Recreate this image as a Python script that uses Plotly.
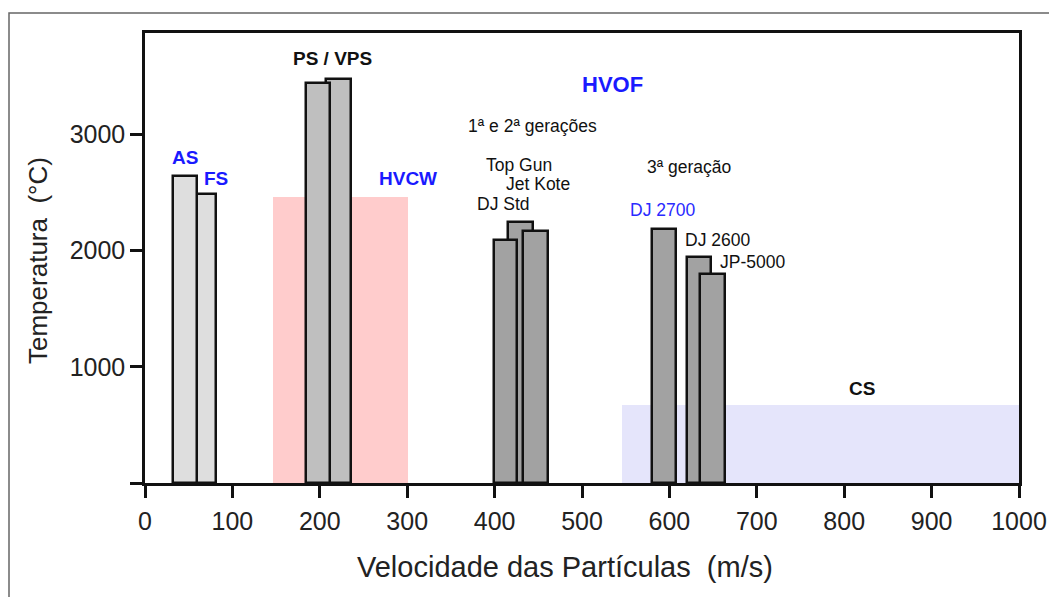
import plotly.graph_objects as go

# ---------------- data ----------------
# Processes drawn as bars (velocity range in m/s, particle temperature in °C)
bar_names = ["FS", "AS", "VPS", "PS", "Top Gun", "DJ Std", "Jet Kote", "DJ 2700", "DJ 2600", "JP-5000"]
bar_vmin = [60, 32, 207, 184, 415, 399, 432, 580, 620, 635]
bar_vmax = [81, 60, 236, 212, 444, 426, 461, 608, 648, 664]
bar_temp = [2490, 2645, 3475, 3440, 2250, 2095, 2165, 2185, 1945, 1800]
bar_group = ["chama", "chama", "plasma", "plasma", "hvof", "hvof", "hvof", "hvof", "hvof", "hvof"]

# Process regions drawn as shaded areas
region_names = ["HVCW", "CS"]
region_vmin = [146, 546]
region_vmax = [301, 1000]
region_temp = [2465, 675]

# Text labels (name, velocity, temperature)
label_text = ["AS", "FS", "PS / VPS", "HVCW", "HVOF", "1ª e 2ª gerações", "Top Gun", "Jet Kote",
              "DJ Std", "3ª geração", "DJ 2700", "DJ 2600", "JP-5000", "CS"]
label_v = [46, 81, 214, 301, 535, 443, 428, 450, 410, 622, 592, 655, 695, 820]
label_t = [2800, 2620, 3650, 2620, 3425, 3070, 2740, 2575, 2400, 2715, 2345, 2095, 1905, 810]

x_ticks = [0, 100, 200, 300, 400, 500, 600, 700, 800, 900, 1000]
y_ticks = [0, 1000, 2000, 3000]
y_ticktext = ["", "1000", "2000", "3000"]

# ---------------- styles ----------------
FONT = "Liberation Sans, Arial, sans-serif"
group_color = {"chama": "#dedede", "plasma": "#bfbfbf", "hvof": "#a2a2a2"}
region_color = {"HVCW": "#ffcccc", "CS": "#e5e5fb"}
label_style = {
    "AS": ("#1a1aff", 19, True), "FS": ("#1a1aff", 19, True), "PS / VPS": ("#111111", 19, True),
    "HVCW": ("#1a1aff", 19, True), "HVOF": ("#1a1aff", 22, True), "CS": ("#111111", 19, True),
    "DJ 2700": ("#2a2aff", 17.5, False),
}

fig = go.Figure()

for n, a, b, t in zip(region_names, region_vmin, region_vmax, region_temp):
    fig.add_trace(go.Bar(x=[(a + b) / 2], y=[t], width=[b - a], base=0,
                         marker=dict(color=region_color[n], line=dict(width=0)),
                         name=n, hoverinfo="name"))

for n, a, b, t, g in zip(bar_names, bar_vmin, bar_vmax, bar_temp, bar_group):
    fig.add_trace(go.Bar(x=[(a + b) / 2], y=[t], width=[b - a], base=0,
                         marker=dict(color=group_color[g], line=dict(width=2.5, color="#111111")),
                         name=n, hoverinfo="name"))

annotations = []
for txt, v, t in zip(label_text, label_v, label_t):
    col, size, bold = label_style.get(txt, ("#111111", 17.5, False))
    annotations.append(dict(x=v, y=t, xref="x", yref="y", text=f"<b>{txt}</b>" if bold else txt,
                            showarrow=False, xanchor="center", yanchor="middle",
                            font=dict(family=FONT, size=size, color=col)))

L, R, T, B = 145, 30, 33, 114
W, H = 1049, 597
pw, ph = W - L - R, H - T - B

# axis titles
annotations.append(dict(text="Velocidade das Partículas  (m/s)", xref="paper", yref="paper",
                        x=(565 - L) / pw, y=(H - B - 567) / ph, showarrow=False,
                        xanchor="center", yanchor="middle",
                        font=dict(family=FONT, size=29, color="#222222")))
annotations.append(dict(text="Temperatura  (°C)", xref="paper", yref="paper", textangle=-90,
                        x=(38 - L) / pw, y=(H - B - 261) / ph, showarrow=False,
                        xanchor="center", yanchor="middle",
                        font=dict(family=FONT, size=26, color="#222222")))

fig.update_layout(
    width=W, height=H,
    margin=dict(l=L, r=R, t=T, b=B, autoexpand=False),
    paper_bgcolor="white", plot_bgcolor="white",
    barmode="overlay", bargap=0, showlegend=False,
    annotations=annotations,
    shapes=[dict(type="rect", xref="paper", yref="paper",
                 x0=(9 - L) / pw, x1=(1060 - L) / pw,
                 y0=(H - B - 610) / ph, y1=(H - B - 13) / ph,
                 line=dict(color="#666666", width=1.5), fillcolor="rgba(0,0,0,0)", layer="below")],
)

fig.update_xaxes(range=[0, 1000], tickvals=x_ticks, ticks="outside", ticklen=12, tickwidth=2.5,
                 tickcolor="#111111", showline=True, linecolor="#111111", linewidth=2.5, mirror=True,
                 showgrid=False, zeroline=False, fixedrange=True, automargin=False,
                 tickfont=dict(family=FONT, size=25, color="#222222"), ticklabelstandoff=2)
fig.update_yaxes(range=[0, 3872], tickvals=y_ticks, ticktext=y_ticktext, ticks="outside", ticklen=12,
                 tickwidth=2.5, tickcolor="#111111", showline=True, linecolor="#111111", linewidth=2.5,
                 mirror=True, showgrid=False, zeroline=False, fixedrange=True, automargin=False,
                 tickfont=dict(family=FONT, size=25, color="#222222"), ticklabelstandoff=0)

fig.write_html("out.html")
